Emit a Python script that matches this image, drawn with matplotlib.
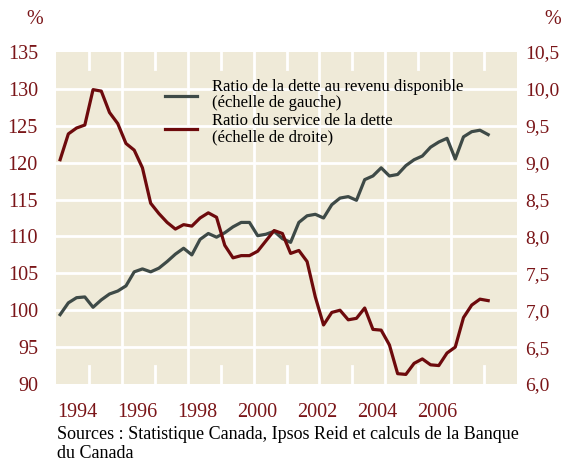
import matplotlib
matplotlib.use("Agg")
import matplotlib.pyplot as plt
import numpy as np

# quarterly data, 1994Q1 - 2007Q1
start_year = 1994
debt_income = [99.4, 101.0, 101.7, 101.8, 100.4, 101.4, 102.2, 102.6,
               103.3, 105.2, 105.6, 105.2, 105.7, 106.6, 107.6, 108.4,
               107.5, 109.6, 110.4, 109.9, 110.5, 111.3, 111.9, 111.9,
               110.1, 110.3, 110.7, 109.7, 109.2, 111.9, 112.8, 113.0,
               112.5, 114.3, 115.2, 115.4, 114.9, 117.7, 118.2, 119.3,
               118.2, 118.4, 119.6, 120.4, 120.9, 122.1, 122.8, 123.3,
               120.5, 123.5, 124.2, 124.4, 123.8]
debt_service = [9.04, 9.39, 9.47, 9.51, 9.99, 9.97, 9.68, 9.53,
                9.26, 9.17, 8.93, 8.45, 8.31, 8.19, 8.10, 8.16,
                8.14, 8.25, 8.32, 8.26, 7.88, 7.71, 7.74, 7.74,
                7.80, 7.94, 8.08, 8.04, 7.77, 7.81, 7.66, 7.18,
                6.80, 6.97, 7.00, 6.87, 6.89, 7.03, 6.74, 6.73,
                6.53, 6.14, 6.13, 6.28, 6.34, 6.26, 6.25, 6.42,
                6.50, 6.90, 7.07, 7.15, 7.13]
year_labels = [1994, 1996, 1998, 2000, 2002, 2004, 2006]
left_ticks = [90, 95, 100, 105, 110, 115, 120, 125, 130, 135]
right_ticks = [6.0, 6.5, 7.0, 7.5, 8.0, 8.5, 9.0, 9.5, 10.0, 10.5]

label_debt = "Ratio de la dette au revenu disponible\n(échelle de gauche)"
label_service = "Ratio du service de la dette\n(échelle de droite)"
source_text = ("Sources : Statistique Canada, Ipsos Reid et calculs de la Banque\n"
               "du Canada")

BG = "#efead8"
GRAY = "#3e4a47"
RED = "#6d0a0c"
TXT = "#7a1518"
FONT = "Liberation Serif"

plt.rcParams['font.family'] = [FONT, 'DejaVu Serif']

n = len(debt_income)
x = start_year + (np.arange(n) + 0.5) / 4.0

fig = plt.figure(figsize=(5.67, 4.62), dpi=100)
ax = fig.add_axes([56/567, 1-384/462, 461/567, 332/462])
ax.set_facecolor(BG)
ax.set_xlim(1994, 2008)
ax.set_ylim(90, 135)

# white grid: horizontal lines, full verticals on even years, short ticks on odd years
for v in left_ticks[1:-1]:
    ax.axhline(v, color="white", lw=2.0, zorder=1)
for yr in range(1995, 2008):
    if yr % 2 == 0:
        ax.axvline(yr, color="white", lw=2.0, zorder=1)
    else:
        ax.axvline(yr, ymin=0, ymax=0.055, color="white", lw=2.0, zorder=1)
        ax.axvline(yr, ymin=0.95, ymax=1, color="white", lw=2.0, zorder=1)

l1, = ax.plot(x, debt_income, color=GRAY, lw=2.3, zorder=3, label=label_debt)
ax.set_yticks(left_ticks)
ax.set_yticklabels([str(t) for t in left_ticks])
ax.set_xticks([])
for s in ax.spines.values():
    s.set_visible(False)
ax.tick_params(axis="y", length=0, pad=13, labelsize=14.5, labelcolor=TXT)

ax2 = ax.twinx()
ax2.set_ylim(6.0, 10.5)
l2, = ax2.plot(x, debt_service, color=RED, lw=2.3, zorder=3, label=label_service)
ax2.set_yticks(right_ticks)
ax2.set_yticklabels([f"{t:.1f}".replace(".", ",") for t in right_ticks])
ax2.tick_params(axis="y", length=0, pad=6, labelsize=14, labelcolor=TXT)
for s in ax2.spines.values():
    s.set_visible(False)

# year labels sit on their own scale
ax3 = ax.twiny()
ax3.set_xlim(1993.3, 2008.67)
ax3.xaxis.set_ticks_position("bottom")
ax3.xaxis.set_label_position("bottom")
ax3.set_xticks(year_labels)
ax3.set_xticklabels([str(y) for y in year_labels])
ax3.tick_params(axis="x", length=0, pad=14, labelsize=14.5, labelcolor=TXT)
for s in ax3.spines.values():
    s.set_visible(False)

fig.text(35/567, 1-20/462, "%", color=TXT, fontsize=14.5, ha="center", va="center")
fig.text(553/567, 1-20/462, "%", color=TXT, fontsize=14.5, ha="center", va="center")

leg = fig.legend(handles=[l1, l2], loc="upper left", bbox_to_anchor=(157/567, 1-71/462),
                 frameon=False, fontsize=12, handlelength=1.9, handletextpad=0.9,
                 labelspacing=0.1, borderpad=0)
for t in leg.get_texts():
    t.set_linespacing(1.0)

fig.text(57/567, 1-444/462, source_text, color="black", fontsize=13,
         ha="left", va="center", linespacing=1.15)

fig.savefig("out.png", dpi=100)
